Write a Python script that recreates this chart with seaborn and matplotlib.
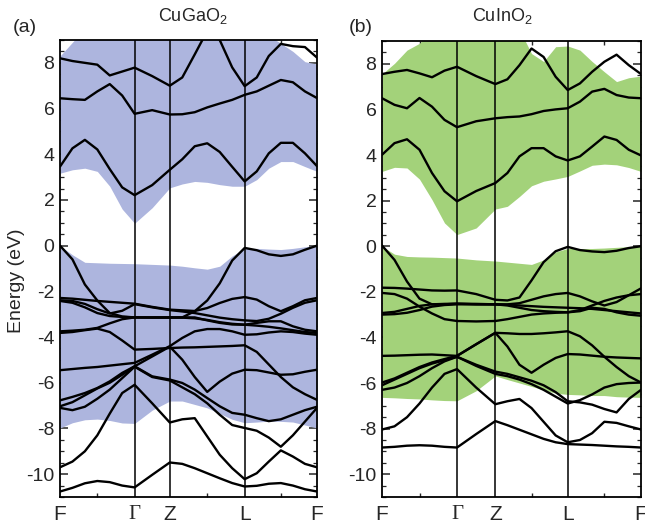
import numpy as np
import pandas as pd
import matplotlib
matplotlib.use("Agg")
import matplotlib.pyplot as plt
import seaborn as sns

# ---------------- data ----------------
kpath_labels = ["F", "Γ", "Z", "L", "F"]
kpts_a = [0.0, 1.0, 1.471, 2.475, 3.444]
kpts_b = [0.0, 1.0, 1.511, 2.476, 3.453]
seg_divisions = [6, 2, 6, 6]

# CuGaO2 (panel a) conduction bands
a_c1 = [3.46, 4.26, 4.63, 4.21, 3.35, 2.55, 2.21, 2.65, 3.32, 3.78, 4.35, 4.48, 4.1, 3.45, 2.81, 3.25, 4.04, 4.5, 4.5, 4.04, 3.48]
a_c2 = [6.45, 6.41, 6.38, 6.75, 7.07, 6.57, 5.77, 5.93, 5.74, 5.75, 5.84, 6.05, 6.22, 6.38, 6.6, 6.75, 7.0, 7.25, 7.15, 6.75, 6.46]
a_c3 = [8.2, 8.08, 8.0, 7.92, 7.45, 7.62, 7.79, 7.42, 7.0, 7.36, 8.37, 9.4, 9.0, 7.8, 6.98, 7.36, 8.3, 8.83, 8.73, 8.69, 8.23]
# CuGaO2 valence bands
a_v1 = [0.0, -0.6, -1.7, -2.4, -2.95, -3.1, -3.14, -3.15, -3.15, -3.14, -2.87, -2.4, -1.65, -0.65, -0.1, -0.2, -0.38, -0.45, -0.38, -0.18, 0.0]
a_v2 = [-2.29, -2.32, -2.37, -2.42, -2.46, -2.5, -2.54, -2.68, -2.8, -2.83, -2.86, -2.73, -2.51, -2.33, -2.25, -2.36, -2.65, -2.87, -2.65, -2.39, -2.29]
a_v3 = [-2.39, -2.42, -2.55, -2.78, -2.97, -2.85, -2.56, -2.7, -2.82, -2.88, -2.95, -3.05, -3.15, -3.22, -3.27, -3.3, -3.2, -2.98, -2.72, -2.5, -2.39]
a_v4 = [-2.42, -2.5, -2.7, -2.95, -3.08, -3.12, -3.14, -3.14, -3.14, -3.15, -3.18, -3.25, -3.35, -3.42, -3.46, -3.5, -3.55, -3.62, -3.7, -3.78, -3.82]
a_v5 = [-3.75, -3.72, -3.68, -3.6, -3.4, -3.22, -3.14, -3.14, -3.14, -3.14, -3.14, -3.27, -3.38, -3.45, -3.46, -3.38, -3.31, -3.31, -3.53, -3.68, -3.75]
a_v6 = [-3.82, -3.78, -3.7, -3.63, -3.78, -4.15, -4.55, -4.52, -4.48, -4.46, -4.45, -4.43, -4.41, -4.39, -4.36, -4.65, -5.2, -5.75, -6.2, -6.5, -6.75]
a_v7 = [-5.45, -5.4, -5.35, -5.31, -5.25, -5.19, -5.13, -4.77, -4.4, -4.04, -3.75, -3.65, -3.65, -3.75, -3.9, -3.88, -3.8, -3.75, -3.78, -3.85, -3.9]
a_v8 = [-7.03, -6.85, -6.55, -6.25, -6.0, -5.65, -5.28, -4.85, -4.42, -4.99, -5.75, -6.4, -5.95, -5.6, -5.43, -5.45, -5.55, -5.65, -5.63, -5.52, -5.43]
a_v9 = [-6.77, -6.62, -6.45, -6.23, -5.94, -5.57, -5.28, -5.72, -5.86, -6.01, -6.3, -6.67, -7.03, -7.32, -7.4, -7.55, -7.68, -7.6, -7.4, -7.2, -7.05]
a_v10 = [-9.7, -9.45, -9.0, -8.3, -7.35, -6.45, -6.09, -6.9, -7.74, -7.6, -7.55, -8.35, -9.15, -9.74, -10.22, -9.96, -9.45, -8.96, -9.23, -9.55, -9.7]
a_v11 = [-7.1, -7.2, -7.05, -6.7, -6.3, -5.8, -5.3, -5.75, -5.9, -6.2, -6.5, -6.9, -7.4, -7.85, -7.98, -8.1, -8.4, -8.8, -8.3, -7.7, -7.1]
a_v12 = [-10.76, -10.6, -10.4, -10.3, -10.35, -10.5, -10.58, -10.03, -9.49, -9.55, -9.74, -9.96, -10.18, -10.39, -10.54, -10.51, -10.42, -10.39, -10.5, -10.66, -10.76]
# CuGaO2 shaded regions
a_cond_lo = [3.17, 3.32, 3.39, 3.25, 2.6, 1.6, 0.98, 1.66, 2.53, 2.7, 2.81, 2.77, 2.67, 2.6, 2.6, 2.89, 3.39, 3.68, 3.68, 3.46, 3.25]
a_cond_hi = [8.3, 8.9, 9.5, 9.5, 9.5, 9.5, 9.5, 9.5, 9.5, 9.5, 9.5, 9.5, 9.5, 9.5, 9.5, 9.5, 9.2, 8.85, 8.5, 8.05, 7.95]
a_val_hi = [0.0, -0.4, -0.73, -0.75, -0.77, -0.78, -0.79, -0.82, -0.85, -0.9, -0.97, -1.03, -0.9, -0.45, -0.12, -0.12, -0.15, -0.17, -0.12, -0.05, 0.02]
a_val_lo = [-7.98, -7.75, -7.62, -7.59, -7.65, -7.76, -7.78, -7.2, -6.8, -6.8, -6.95, -7.1, -7.35, -7.6, -7.75, -7.72, -7.68, -7.69, -7.72, -7.85, -7.98]

# CuInO2 (panel b) conduction bands
b_c1 = [4.01, 4.52, 4.69, 4.23, 3.21, 2.41, 1.97, 2.42, 2.77, 3.21, 3.94, 4.3, 4.3, 3.94, 3.76, 3.94, 4.37, 4.81, 4.66, 4.23, 3.98]
b_c2 = [6.49, 6.2, 6.05, 6.5, 6.12, 5.54, 5.22, 5.48, 5.61, 5.66, 5.69, 5.79, 5.93, 6.0, 6.05, 6.34, 6.78, 6.9, 6.63, 6.52, 6.49]
b_c3 = [7.55, 7.65, 7.73, 7.58, 7.41, 7.7, 7.87, 7.46, 7.11, 7.32, 7.94, 8.67, 8.3, 7.43, 6.85, 7.14, 7.65, 8.09, 8.4, 7.94, 7.55]
# CuInO2 valence bands
b_v1 = [0.03, -0.6, -1.55, -2.3, -2.55, -2.55, -2.52, -2.53, -2.55, -2.55, -2.5, -2.35, -2.2, -2.1, -2.05, -2.2, -2.42, -2.6, -2.45, -2.15, -1.85]
b_v2 = [-1.82, -1.83, -1.86, -1.9, -1.94, -1.95, -1.94, -2.1, -2.35, -2.38, -2.25, -1.5, -0.7, -0.22, -0.03, -0.17, -0.23, -0.26, -0.2, -0.08, 0.0]
b_v3 = [-2.05, -2.1, -2.3, -2.65, -2.95, -3.2, -3.28, -3.3, -3.28, -3.2, -3.1, -3.0, -2.95, -2.92, -2.9, -2.8, -2.6, -2.4, -2.25, -2.15, -2.1]
b_v4 = [-2.93, -2.88, -2.75, -2.62, -2.55, -2.53, -2.52, -2.55, -2.55, -2.57, -2.6, -2.63, -2.66, -2.68, -2.7, -2.72, -2.75, -2.8, -2.85, -2.9, -2.95]
b_v5 = [-3.0, -2.98, -2.92, -2.8, -2.65, -2.58, -2.55, -2.55, -2.55, -2.6, -2.7, -2.8, -2.85, -2.88, -2.9, -2.85, -2.7, -2.75, -2.9, -3.0, -3.05]
b_v6 = [-4.81, -4.8, -4.78, -4.76, -4.75, -4.78, -4.81, -4.3, -3.8, -3.82, -3.85, -3.85, -3.82, -3.78, -3.73, -3.95, -4.35, -4.85, -5.3, -5.7, -5.98]
b_v7 = [-5.98, -5.8, -5.55, -5.3, -5.1, -4.95, -4.81, -4.3, -3.8, -4.4, -5.2, -5.55, -5.2, -4.9, -4.73, -4.75, -4.8, -4.85, -4.88, -4.9, -4.92]
b_v8 = [-6.1, -5.85, -5.6, -5.35, -5.15, -5.0, -4.85, -5.2, -5.5, -5.6, -5.75, -5.9, -6.1, -6.4, -6.8, -6.85, -6.95, -7.14, -7.29, -6.7, -6.3]
b_v9 = [-6.3, -6.2, -6.0, -5.7, -5.35, -5.05, -4.85, -5.25, -5.6, -5.7, -5.85, -6.05, -6.3, -6.6, -6.9, -6.75, -6.5, -6.2, -6.05, -6.0, -5.98]
b_v10 = [-8.04, -7.9, -7.5, -6.9, -6.2, -5.6, -5.39, -6.2, -6.93, -6.8, -6.7, -7.1, -7.7, -8.3, -8.6, -8.5, -8.2, -7.7, -7.75, -7.9, -8.04]
b_v11 = [-8.83, -8.8, -8.75, -8.73, -8.75, -8.8, -8.83, -8.24, -7.67, -7.85, -8.05, -8.25, -8.45, -8.6, -8.68, -8.7, -8.72, -8.75, -8.78, -8.8, -8.83]
# CuInO2 shaded regions
b_cond_lo = [3.28, 3.46, 3.43, 2.94, 2.04, 1.02, 0.51, 0.8, 1.63, 1.75, 2.18, 2.65, 2.85, 2.95, 3.06, 3.3, 3.55, 3.6, 3.57, 3.45, 3.28]
b_cond_hi = [7.55, 8.02, 8.6, 8.9, 9.5, 9.5, 9.5, 9.5, 9.5, 9.5, 9.5, 8.45, 8.1, 8.75, 8.78, 8.6, 8.1, 7.65, 7.22, 7.39, 7.46]
b_val_hi = [0.0, -0.35, -0.45, -0.47, -0.48, -0.5, -0.52, -0.6, -0.65, -0.7, -0.75, -0.8, -0.6, -0.25, -0.1, -0.1, -0.1, -0.08, -0.05, -0.02, 0.0]
b_val_lo = [-6.63, -6.65, -6.68, -6.7, -6.74, -6.77, -6.78, -6.34, -5.69, -5.85, -6.0, -6.15, -6.3, -6.45, -6.5, -6.52, -6.55, -6.55, -6.6, -6.62, -6.63]

titles = ["CuGaO$_2$", "CuInO$_2$"]
panel_tags = ["(a)", "(b)"]
fill_colors = ["#adb5de", "#a3d27a"]

# ---------------- style ----------------
sns.set_style("ticks")
plt.rcParams["font.family"] = ["Liberation Sans", "DejaVu Sans"]
plt.rcParams["mathtext.default"] = "regular"
plt.rcParams["axes.unicode_minus"] = False


def kgrid(kp):
    parts = [np.array([kp[0]])]
    for i, n in enumerate(seg_divisions):
        parts.append(np.linspace(kp[i], kp[i + 1], n + 1)[1:])
    return np.concatenate(parts)


panels = [
    dict(kp=kpts_a, bands=[a_c1, a_c2, a_c3, a_v1, a_v2, a_v3, a_v4, a_v5, a_v6,
                           a_v7, a_v8, a_v9, a_v10, a_v11, a_v12],
         fills=[(a_cond_lo, a_cond_hi), (a_val_lo, a_val_hi)],
         rect=[60 / 645, 27 / 524, 257 / 645, 457 / 524]),
    dict(kp=kpts_b, bands=[b_c1, b_c2, b_c3, b_v1, b_v2, b_v3, b_v4, b_v5, b_v6,
                           b_v7, b_v8, b_v9, b_v10, b_v11],
         fills=[(b_cond_lo, b_cond_hi), (b_val_lo, b_val_hi)],
         rect=[382 / 645, 27 / 524, 259 / 645, 456 / 524]),
]

fig = plt.figure(figsize=(6.45, 5.24), dpi=100)

for idx, p in enumerate(panels):
    ax = fig.add_axes(p["rect"])
    k = kgrid(p["kp"])
    for lo, hi in p["fills"]:
        ax.fill_between(k, lo, hi, color=fill_colors[idx], lw=0, zorder=1)
    for xv in p["kp"][1:-1]:
        ax.axvline(xv, color="black", lw=1.1, zorder=2)
    rows = []
    for bi, band in enumerate(p["bands"]):
        for kk, e in zip(k, band):
            rows.append((bi, kk, e))
    df = pd.DataFrame(rows, columns=["band", "k", "E"])
    sns.lineplot(data=df, x="k", y="E", units="band", estimator=None, sort=False,
                 color="black", linewidth=1.7, ax=ax, legend=False, zorder=3)

    ax.set_xlim(p["kp"][0], p["kp"][-1])
    ax.set_ylim(-11, 9)
    ax.set_xlabel("")
    ax.set_ylabel("")
    ax.set_xticks(p["kp"])
    ax.set_xticklabels(kpath_labels, fontsize=15)
    for lab in ax.get_xticklabels():
        if lab.get_text() == "Γ":
            lab.set_fontfamily(["Liberation Serif", "DejaVu Serif"])
    ax.set_xticks([0.5, (p["kp"][2] + p["kp"][3]) / 2, (p["kp"][3] + p["kp"][4]) / 2], minor=True)
    ax.set_yticks(np.arange(-10, 9, 2))
    ax.set_yticklabels([str(v) for v in range(-10, 9, 2)], fontsize=14)
    ax.set_yticks(np.arange(-11, 9.01, 0.5), minor=True)
    ax.tick_params(axis="x", which="major", length=0, pad=6)
    ax.tick_params(axis="x", which="minor", direction="in", length=3, width=1, top=True, bottom=True)
    ax.tick_params(axis="y", which="major", direction="in", length=6, width=1.1, left=True, right=True, pad=4)
    ax.tick_params(axis="y", which="minor", direction="in", length=3, width=0.9, left=True, right=True)
    for s in ax.spines.values():
        s.set_visible(True)
        s.set_linewidth(1.3)
        s.set_color("black")
        s.set_zorder(5)

fig.text(193 / 645, 1 - 16 / 524, titles[0], ha="center", va="center", fontsize=13)
fig.text(502 / 645, 1 - 16 / 524, titles[1], ha="center", va="center", fontsize=13)
fig.text(25 / 645, 1 - 28 / 524, panel_tags[0], ha="center", va="center", fontsize=14)
fig.text(361 / 645, 1 - 28 / 524, panel_tags[1], ha="center", va="center", fontsize=14)
fig.text(17 / 645, 1 - 281 / 524, "Energy (eV)", ha="center", va="center", rotation=90, fontsize=14)

fig.savefig("out.png", dpi=100)
